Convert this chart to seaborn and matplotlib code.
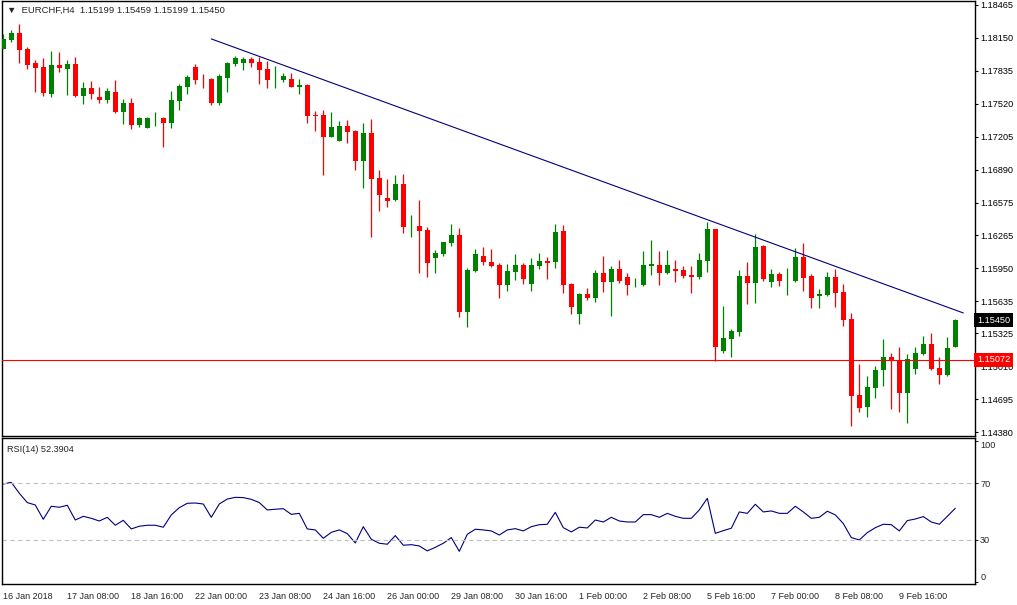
import numpy as np
import pandas as pd
import seaborn as sns
import matplotlib.pyplot as plt
from matplotlib.transforms import blended_transform_factory

# EURCHF H4 candles, oldest first
opens = [
    1.18045, 1.18131, 1.18195, 1.18042, 1.17908, 1.17870, 1.17615, 1.17889, 1.17851, 1.17899,
    1.17593, 1.17670, 1.17584, 1.17555, 1.17631, 1.17440, 1.17526, 1.17316, 1.17288, 1.17378,
    1.17383, 1.17335, 1.17545, 1.17679, 1.17870, 1.17756, 1.17756, 1.17526, 1.17765, 1.17899,
    1.17908, 1.17947, 1.17918, 1.17851, 1.17751, 1.17746, 1.17756, 1.17679, 1.17698, 1.17412,
    1.17412, 1.17202, 1.17163, 1.17307, 1.17259, 1.16972, 1.17240, 1.16810, 1.16619, 1.16600,
    1.16753, 1.16347, 1.16352, 1.16314, 1.16046, 1.16084, 1.16189, 1.16266, 1.15530, 1.15922,
    1.16065, 1.16008, 1.15979, 1.15788, 1.15912, 1.15979, 1.15798, 1.15970, 1.16018, 1.16008,
    1.16304, 1.15798, 1.15511, 1.15702, 1.15664, 1.15903, 1.15817, 1.15941, 1.15865, 1.15784,
    1.15788, 1.15970, 1.15979, 1.15903, 1.15941, 1.15932, 1.15884, 1.15865, 1.16018, 1.16323,
    1.15158, 1.15272, 1.15339, 1.15874, 1.15807, 1.16161, 1.15817, 1.15893, 1.15831, 1.15827,
    1.16056, 1.15874, 1.15683, 1.15693, 1.15865, 1.15722, 1.15464, 1.14738, 1.14623, 1.14805,
    1.14977, 1.15101, 1.15072, 1.14757, 1.14986, 1.15129, 1.15225, 1.14996, 1.14929, 1.15199,
]
highs = [
    1.18185, 1.18224, 1.18281, 1.18061, 1.17937, 1.17956, 1.18023, 1.18013, 1.17937, 1.17966,
    1.17727, 1.17736, 1.17679, 1.17670, 1.17746, 1.17565, 1.17574, 1.17393, 1.17393, 1.17440,
    1.17393, 1.17641, 1.17708, 1.17794, 1.17899, 1.17803, 1.17765, 1.17803, 1.17918, 1.17975,
    1.17966, 1.17966, 1.17966, 1.17927, 1.17880, 1.17813, 1.17813, 1.17756, 1.17708, 1.17450,
    1.17460, 1.17440, 1.17355, 1.17364, 1.17269, 1.17335, 1.17374, 1.16887, 1.16801, 1.16839,
    1.16848, 1.16457, 1.16600, 1.16342, 1.16123, 1.16199, 1.16371, 1.16333, 1.15951, 1.16132,
    1.16151, 1.16132, 1.15999, 1.15989, 1.16084, 1.15999, 1.16046, 1.16094, 1.16056, 1.16371,
    1.16361, 1.15807, 1.15712, 1.15760, 1.15932, 1.16065, 1.15970, 1.16027, 1.15903, 1.15855,
    1.16113, 1.16218, 1.16113, 1.16123, 1.16027, 1.15970, 1.15970, 1.16094, 1.16390, 1.16323,
    1.15588, 1.15368, 1.15932, 1.16008, 1.16275, 1.16170, 1.15941, 1.15912, 1.15951, 1.16142,
    1.16189, 1.15893, 1.15750, 1.15912, 1.15941, 1.15798, 1.15521, 1.15034, 1.14919, 1.15015,
    1.15273, 1.15139, 1.15196, 1.15129, 1.15196, 1.15301, 1.15330, 1.15101, 1.15292, 1.15459,
]
lows = [
    1.18045, 1.18109, 1.17911, 1.17851, 1.17634, 1.17596, 1.17584, 1.17822, 1.17603, 1.17584,
    1.17517, 1.17565, 1.17526, 1.17526, 1.17431, 1.17326, 1.17278, 1.17298, 1.17288, 1.17307,
    1.17106, 1.17288, 1.17460, 1.17612, 1.17708, 1.17670, 1.17507, 1.17507, 1.17631, 1.17880,
    1.17842, 1.17870, 1.17708, 1.17670, 1.17670, 1.17727, 1.17679, 1.17612, 1.17335, 1.17259,
    1.16839, 1.17202, 1.17163, 1.17144, 1.16887, 1.16715, 1.16247, 1.16495, 1.16533, 1.16590,
    1.16285, 1.16247, 1.15903, 1.15865, 1.15903, 1.16065, 1.16161, 1.15483, 1.15388, 1.15912,
    1.15979, 1.15960, 1.15664, 1.15731, 1.15836, 1.15798, 1.15731, 1.15941, 1.15846, 1.15951,
    1.15712, 1.15511, 1.15416, 1.15645, 1.15626, 1.15722, 1.15492, 1.15807, 1.15693, 1.15769,
    1.15779, 1.15884, 1.15788, 1.15893, 1.15817, 1.15855, 1.15712, 1.15846, 1.15912, 1.15062,
    1.15139, 1.15101, 1.15301, 1.15607, 1.15616, 1.15827, 1.15769, 1.15779, 1.15693, 1.15817,
    1.15731, 1.15569, 1.15569, 1.15683, 1.15578, 1.15397, 1.14442, 1.14575, 1.14528, 1.14709,
    1.14824, 1.14604, 1.14575, 1.14470, 1.14938, 1.15120, 1.14977, 1.14843, 1.14919, 1.15199,
]
closes = [
    1.18138, 1.18195, 1.18035, 1.17889, 1.17861, 1.17622, 1.17889, 1.17863, 1.17899, 1.17593,
    1.17670, 1.17612, 1.17555, 1.17641, 1.17440, 1.17526, 1.17317, 1.17383, 1.17383, 1.17383,
    1.17335, 1.17555, 1.17689, 1.17775, 1.17746, 1.17751, 1.17526, 1.17784, 1.17908, 1.17956,
    1.17947, 1.17908, 1.17842, 1.17746, 1.17756, 1.17784, 1.17679, 1.17698, 1.17402, 1.17402,
    1.17202, 1.17298, 1.17307, 1.17250, 1.16972, 1.17240, 1.16801, 1.16648, 1.16590, 1.16753,
    1.16342, 1.16352, 1.16304, 1.15999, 1.16094, 1.16199, 1.16266, 1.15530, 1.15932, 1.16084,
    1.16008, 1.15970, 1.15788, 1.15922, 1.15979, 1.15846, 1.15979, 1.16018, 1.15999, 1.16294,
    1.15788, 1.15578, 1.15702, 1.15664, 1.15903, 1.15817, 1.15941, 1.15827, 1.15788, 1.15788,
    1.15979, 1.15989, 1.15903, 1.15979, 1.15922, 1.15874, 1.15865, 1.16027, 1.16323, 1.15196,
    1.15282, 1.15349, 1.15874, 1.15807, 1.16151, 1.15846, 1.15893, 1.15827, 1.15836, 1.16056,
    1.15855, 1.15664, 1.15702, 1.15865, 1.15712, 1.15454, 1.14728, 1.14614, 1.14814, 1.14977,
    1.15101, 1.15062, 1.14757, 1.15082, 1.15139, 1.15225, 1.14986, 1.14929, 1.15187, 1.15450,
]
rsi = [
    69.5, 70.7, 63.0, 56.4, 54.7, 44.6, 53.8, 53.1, 54.5, 44.1,
    46.7, 45.3, 43.4, 46.0, 40.4, 43.9, 37.8, 39.7, 40.4, 40.4,
    39.0, 47.7, 52.8, 55.9, 56.1, 55.4, 46.0, 55.4, 58.9, 60.1,
    59.9, 58.7, 56.4, 51.2, 51.7, 52.1, 48.1, 48.8, 37.8, 37.1,
    31.2, 35.4, 37.1, 34.5, 27.9, 39.4, 30.5, 27.7, 27.0, 33.1,
    26.3, 26.7, 25.8, 22.3, 24.8, 27.7, 31.7, 22.0, 34.0, 37.6,
    37.1, 36.4, 33.5, 37.1, 38.0, 36.4, 39.4, 40.8, 41.1, 49.5,
    38.7, 35.7, 39.0, 38.5, 44.1, 42.7, 46.0, 43.4, 42.7, 42.7,
    47.9, 47.9, 46.0, 48.8, 46.7, 45.3, 45.3, 51.2, 59.4, 34.7,
    36.6, 38.3, 49.8, 48.8, 55.2, 49.8, 50.5, 48.8, 48.8, 53.8,
    49.8, 45.3, 46.0, 50.3, 47.7, 41.6, 31.7, 30.0, 35.2, 38.7,
    41.1, 40.8, 36.4, 43.7, 44.8, 46.5, 42.7, 41.1, 46.7, 52.39,
]

time_labels = [
    "16 Jan 2018", "17 Jan 08:00", "18 Jan 16:00", "22 Jan 00:00", "23 Jan 08:00",
    "24 Jan 16:00", "26 Jan 00:00", "29 Jan 08:00", "30 Jan 16:00", "1 Feb 00:00",
    "2 Feb 08:00", "5 Feb 16:00", "7 Feb 00:00", "8 Feb 08:00", "9 Feb 16:00",
]
price_ticks = [1.18465, 1.18150, 1.17835, 1.17520, 1.17205, 1.16890, 1.16575,
               1.16265, 1.15950, 1.15635, 1.15325, 1.15010, 1.14695, 1.14380]
rsi_ticks = [0, 30, 70, 100]
rsi_levels = [30, 70]

# trendline anchors (bar index, price) and the horizontal line
trend_bars = [26, 120]
trend_prices = [1.18138, 1.15521]
hline_price = 1.15072
last_price = 1.15450

BULL = "#008000"
BEAR = "#ff0000"
NAVY = "#000080"

sns.set_style("white")
plt.rcParams["font.family"] = ["Liberation Sans", "DejaVu Sans"]

df = pd.DataFrame({"open": opens, "high": highs, "low": lows, "close": closes, "rsi": rsi})
df["bar"] = np.arange(len(df))
df["color"] = np.where(df["close"] >= df["open"], BULL, BEAR)

fig = plt.figure(figsize=(10.17, 6.05), dpi=100)
W, H = 1017, 605
left, right = 2 / W, 975 / W
ax = fig.add_axes([left, 1 - 436 / H, right - left, 435 / H])
ax2 = fig.add_axes([left, 1 - 584 / H, right - left, 146 / H], sharex=ax)

# candles
ax.vlines(df["bar"], df["low"], df["high"], colors=df["color"], linewidth=0.9, zorder=3)
body_lo = df[["open", "close"]].min(axis=1)
body_h = (df["close"] - df["open"]).abs().clip(lower=0.00008)
ax.bar(df["bar"], body_h, bottom=body_lo, width=0.62, color=df["color"], linewidth=0, zorder=4)

# drawn objects
sns.lineplot(x=trend_bars, y=trend_prices, ax=ax, color=NAVY, linewidth=0.8, zorder=5)
ax.axhline(hline_price, color=BEAR, linewidth=0.8, zorder=5)

ax.set_xlim(-0.16, 121.46)
ax.set_ylim(1.14346, 1.18500)
ax.set_yticks(price_ticks)
ax.set_yticklabels([f"{p:.5f}" for p in price_ticks])
ax.yaxis.tick_right()
ax.tick_params(axis="y", direction="out", length=2.5, width=0.8, pad=1.2, labelsize=6.6,
               colors="black")
ax.tick_params(axis="x", bottom=False, labelbottom=False)
ax.set_xlabel("")
ax.set_ylabel("")

trans = blended_transform_factory(ax.transAxes, ax.transData)
ax.text(1.002, last_price, f"{last_price:.5f}", transform=trans, ha="left", va="center",
        fontsize=6.6, color="white", clip_on=False, zorder=10,
        bbox=dict(facecolor="black", edgecolor="none", pad=1.8))
ax.text(1.002, hline_price, f"{hline_price:.5f}", transform=trans, ha="left", va="center",
        fontsize=6.6, color="white", clip_on=False, zorder=10,
        bbox=dict(facecolor=BEAR, edgecolor="none", pad=1.8))
ax.text(0.005, 0.988, "\u25bc  EURCHF,H4  1.15199 1.15459 1.15199 1.15450",
        transform=ax.transAxes, ha="left", va="top", fontsize=6.8,
        family=["Liberation Sans", "DejaVu Sans"])

# RSI panel
sns.lineplot(data=df, x="bar", y="rsi", ax=ax2, color=NAVY, linewidth=0.8)
for lvl in rsi_levels:
    ax2.axhline(lvl, color="#c0c0c0", linewidth=0.8, linestyle=(0, (4, 3)))
ax2.set_ylim(-1.06, 101.98)
ax2.set_yticks(rsi_ticks)
ax2.set_yticklabels([str(v) for v in rsi_ticks])
ax2.yaxis.tick_right()
ax2.tick_params(axis="y", direction="out", length=2.5, width=0.8, pad=1.2, labelsize=6.6)
labels = ax2.get_yticklabels()
labels[0].set_verticalalignment("bottom")
labels[-1].set_verticalalignment("top")
ax2.set_xticks(df["bar"][::8])
ax2.set_xticklabels(time_labels, ha="left")
ax2.tick_params(axis="x", direction="out", length=4, width=0.8, pad=2, labelsize=6.5)
ax2.set_xlabel("")
ax2.set_ylabel("")
ax2.text(0.005, 0.95, "RSI(14) 52.3904", transform=ax2.transAxes, ha="left", va="top",
         fontsize=6.6)

for a in (ax, ax2):
    for s in a.spines.values():
        s.set_color("black")
        s.set_linewidth(1)

fig.savefig("out.png", dpi=100, facecolor="white")
